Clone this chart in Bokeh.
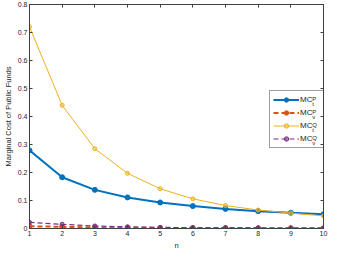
from bokeh.plotting import figure
from bokeh.models import (Legend, LegendItem, LinearAxis, FixedTicker, Range1d,
                          NumeralTickFormatter, ColumnDataSource)
from bokeh.core.properties import value
from bokeh.embed import file_html
from bokeh.resources import INLINE

n = [1, 2, 3, 4, 5, 6, 7, 8, 9, 10]
mc_t_p = [0.279, 0.183, 0.138, 0.111, 0.093, 0.080, 0.070, 0.062, 0.056, 0.051]
mc_v_p = [0.008, 0.006, 0.004, 0.003, 0.002, 0.002, 0.002, 0.001, 0.001, 0.001]
mc_t_q = [0.720, 0.440, 0.285, 0.197, 0.142, 0.106, 0.082, 0.066, 0.055, 0.045]
mc_v_q = [0.022, 0.015, 0.009, 0.006, 0.004, 0.003, 0.002, 0.002, 0.001, 0.001]
y_ticks = [0, 0.1, 0.2, 0.3, 0.4, 0.5, 0.6, 0.7, 0.8]
legend_sup = ["P", "P", "Q", "Q"]
legend_sub = ["t", "v", "t", "v"]

BLUE, ORANGE, YELLOW, PURPLE = "#0072BD", "#D95319", "#EDB120", "#7E2F8E"
AX = "#404040"
TXT = "#262626"
FONT = "Liberation Sans"
FW, FH = 294, 224
X0, X1, Y0, Y1 = 1, 10, 0, 0.8

p = figure(frame_width=FW, frame_height=FH, output_backend="svg", toolbar_location=None,
           x_range=Range1d(X0, X1), y_range=Range1d(Y0, Y1),
           min_border_left=10, min_border_right=6, min_border_top=4, min_border_bottom=2)
p.grid.visible = False
p.outline_line_color = AX
p.outline_line_width = 1

for ax in (p.xaxis[0], p.yaxis[0]):
    ax.axis_line_color = AX
    ax.major_tick_line_color = AX
    ax.major_tick_in = 3
    ax.major_tick_out = 0
    ax.minor_tick_line_color = None
    ax.major_label_text_font = FONT
    ax.major_label_text_font_size = "7px"
    ax.major_label_text_color = TXT
    ax.axis_label_text_font = FONT
    ax.axis_label_text_font_size = "7.5px"
    ax.axis_label_text_font_style = "normal"
    ax.axis_label_text_color = TXT
    ax.major_label_standoff = 2
    ax.axis_label_standoff = 2

p.xaxis[0].ticker = FixedTicker(ticks=n)
p.xaxis[0].axis_label = "n"
p.yaxis[0].ticker = FixedTicker(ticks=y_ticks)
p.yaxis[0].formatter = NumeralTickFormatter(format="0.[0]")
p.yaxis[0].axis_label = "Marginal Cost of Public Funds"

# mirrored ticks (box on) with empty labels
top = LinearAxis(ticker=FixedTicker(ticks=n), major_label_overrides={t: "" for t in n},
                 major_label_text_font=FONT, major_label_text_font_size="7px",
                 major_label_text_color=TXT, major_label_standoff=0,
                 major_tick_in=3, major_tick_out=0,
                 minor_tick_line_color=None, axis_line_color=AX, major_tick_line_color=AX)
right = LinearAxis(ticker=FixedTicker(ticks=y_ticks),
                   major_label_overrides={t: "" for t in y_ticks},
                   major_label_text_font=FONT, major_label_text_font_size="7px",
                   major_label_text_color=TXT, major_label_standoff=0,
                   major_tick_in=3, major_tick_out=0,
                   minor_tick_line_color=None, axis_line_color=AX, major_tick_line_color=AX)
p.add_layout(top, "above")
p.add_layout(right, "right")

l1 = p.line(n, mc_t_p, color=BLUE, line_width=2)
m1 = p.scatter(n, mc_t_p, color=BLUE, size=5)
l2 = p.line(n, mc_v_p, color=ORANGE, line_width=2, line_dash="5 3")
m2 = p.scatter(n, mc_v_p, color=ORANGE, size=5)
l3 = p.line(n, mc_t_q, color=YELLOW, line_width=1)
m3 = p.scatter(n, mc_t_q, line_color=YELLOW, fill_color=YELLOW, fill_alpha=0.4, size=4)
l4 = p.line(n, mc_v_q, color=PURPLE, line_width=1.2, line_dash="5 3")
m4 = p.scatter(n, mc_v_q, line_color=PURPLE, fill_color=PURPLE, fill_alpha=0.6, size=4)

PAD, GW, GH, SP, STAND, LW = 3, 26, 11, 2, 1, 20
LEG_W = PAD * 2 + GW + STAND + LW
LEG_H = PAD * 2 + 4 * GH + 3 * SP
lx = FW - 1 - LEG_W
ly = FH - 88 - LEG_H

leg = Legend(items=[LegendItem(label="MC", renderers=[l1, m1]),
                    LegendItem(label="MC", renderers=[l2, m2]),
                    LegendItem(label="MC", renderers=[l3, m3]),
                    LegendItem(label="MC", renderers=[l4, m4])],
             location=(lx, ly), padding=PAD, spacing=SP, glyph_width=GW, glyph_height=GH,
             label_height=GH, label_width=LW, label_standoff=STAND, margin=0,
             label_text_font=FONT, label_text_font_size="8px", label_text_color=TXT,
             border_line_color=AX, border_line_width=1, background_fill_alpha=0)
p.add_layout(leg, "center")

# super/subscripts of the legend labels (legend layout -> data units)
sx_px = lx + PAD + GW + STAND + 12.8
top_px = ly + LEG_H
row_cy = [top_px - PAD - GH / 2 - i * (GH + SP) for i in range(4)]
sx = [X0 + sx_px * (X1 - X0) / FW] * 4
sup_y = [Y0 + (c + 2.5) * (Y1 - Y0) / FH for c in row_cy]
sub_y = [Y0 + (c - 2.5) * (Y1 - Y0) / FH for c in row_cy]
p.text(x=sx, y=sup_y, text=legend_sup, text_font=value(FONT), text_font_size="6px",
       text_color=TXT, text_baseline="middle", text_align="left")
p.text(x=sx, y=sub_y, text=legend_sub, text_font=value(FONT), text_font_size="6px",
       text_color=TXT, text_baseline="middle", text_align="left")

open("out.html", "w").write(file_html(p, INLINE))
